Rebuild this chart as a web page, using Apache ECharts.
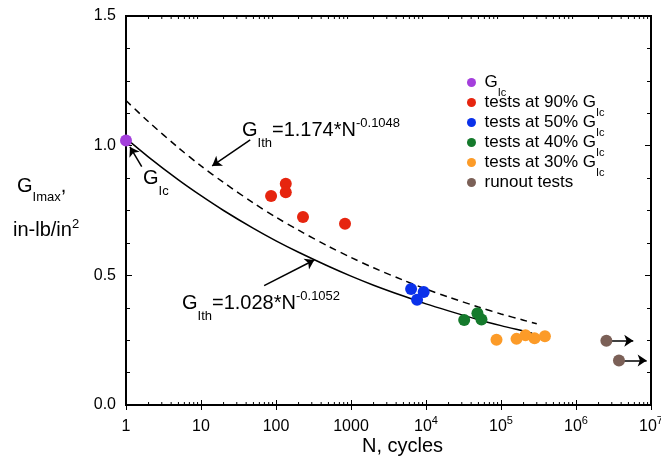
<!DOCTYPE html>
<html><head><meta charset="utf-8">
<script src="https://cdn.jsdelivr.net/npm/echarts@6/dist/echarts.min.js"></script>
<style>html,body{margin:0;padding:0;background:#fff}#c{width:661px;height:462px}</style>
</head><body><div id="c"></div>
<script>
// ---- data ----
const xTickLabels = ['1', '10', '100', '1000', '10^4', '10^5', '10^6', '10^7'];
const yTickLabels = ['0.0', '0.5', '1.0', '1.5'];
const seriesNames = ['G_Ic', 'tests at 90% G_Ic', 'tests at 50% G_Ic', 'tests at 40% G_Ic', 'tests at 30% G_Ic', 'runout tests'];

const gIcN = [1];
const gIcG = [1.02];
const t90N = [86, 135, 135, 229, 832];
const t90G = [0.806, 0.853, 0.820, 0.725, 0.699];
const t50N = [6330, 9310, 7600];
const t50G = [0.447, 0.436, 0.406];
const t40N = [32300, 48500, 54900];
const t40G = [0.328, 0.354, 0.330];
const t30N = [87100, 161000, 212000, 280000, 385000];
const t30G = [0.252, 0.255, 0.269, 0.257, 0.265];
const runN = [2540000, 3740000];
const runG = [0.248, 0.172];

// curves (upper dashed, lower solid)
const upperN = [1, 2, 5, 10, 20, 50, 100, 200, 500, 1000, 2000, 5000, 1e4, 2e4, 5e4, 1e5, 2e5, 3e5];
const upperG = [1.174, 1.092, 0.992, 0.922, 0.858, 0.779, 0.724, 0.674, 0.612, 0.569, 0.529, 0.481, 0.447, 0.416, 0.378, 0.351, 0.327, 0.313];
const lowerN = [1, 2, 5, 10, 20, 50, 100, 200, 500, 1000, 2000, 5000, 1e4, 2e4, 5e4, 1e5, 2e5, 2.6e5];
const lowerG = [1.028, 0.956, 0.868, 0.807, 0.750, 0.681, 0.633, 0.589, 0.535, 0.497, 0.462, 0.420, 0.390, 0.363, 0.329, 0.306, 0.285, 0.277];

// ---- helpers ----
const FF = 'Liberation Sans, Arial, Helvetica, sans-serif';
const zip = (a, b) => a.map((v, i) => [v, b[i]]);
const minorX = [];
for (let e = 0; e < 7; e++) for (let m = 2; m <= 9; m++) minorX.push(m * Math.pow(10, e));

function xLabel(v) {
  const k = Math.round(Math.log10(v));
  const s = xTickLabels[k];
  if (s === undefined) return '';
  const p = s.split('^');
  return p.length > 1 ? p[0] + '{sup|' + p[1] + '}' : s;
}
function yLabel(v) {
  const k = Math.round(v / 0.5);
  return yTickLabels[k] !== undefined ? yTickLabels[k] : '';
}
const richSubSup = {
  sub: { fontSize: 13, lineHeight: 13, padding: [26, 0, 0, 0], fontFamily: FF, fill: '#000', color: '#000' },
  sup: { fontSize: 13, lineHeight: 13, padding: [0, 0, 14, 0], fontFamily: FF, fill: '#000', color: '#000' }
};
function richText(s) {
  return s.replace(/_([A-Za-z]+)/g, '{sub|$1}').replace(/\^([-0-9.]+)/g, '{sup|$1}');
}

const colors = ['#a43fdc', '#e6250f', '#0a31ea', '#157a2c', '#fc9b28', '#7b6057'];
const pointSets = [zip(gIcN, gIcG), zip(t90N, t90G), zip(t50N, t50G), zip(t40N, t40G), zip(t30N, t30G), zip(runN, runG)];

const chart = echarts.init(document.getElementById('c'), null, { renderer: 'canvas' });

const scatterSeries = pointSets.map((d, i) => ({
  name: seriesNames[i], type: 'scatter', data: d, symbolSize: 12,
  itemStyle: { color: colors[i], opacity: 1 }, clip: false, z: 5, silent: true
}));

const axisCommonX = {
  type: 'log', logBase: 10, min: 1, max: 1e7, gridIndex: 0,
  axisLine: { show: true, lineStyle: { color: '#000', width: 2 } },
  axisTick: { show: true, inside: true, length: 5, lineStyle: { color: '#000', width: 1 } },
  minorTick: { show: false }, splitLine: { show: false }
};
const axisCommonY = {
  type: 'value', min: 0, max: 1.5, interval: 0.5, gridIndex: 0,
  axisLine: { show: true, lineStyle: { color: '#000', width: 2 } },
  axisTick: { show: true, inside: true, length: 6, lineStyle: { color: '#000', width: 1 } },
  minorTick: { show: true, splitNumber: 4, length: 4, lineStyle: { color: '#000', width: 1 } },
  splitLine: { show: false }
};

const option = {
  animation: false,
  backgroundColor: '#fff',
  grid: { left: 126, right: 10, top: 16, bottom: 57, containLabel: false, outerBoundsMode: 'none',
    show: true, borderColor: '#000', borderWidth: 2, backgroundColor: 'transparent' },
  xAxis: [
    Object.assign({}, axisCommonX, {
      position: 'bottom',
      axisLabel: { show: true, formatter: xLabel, fontSize: 16, color: '#000', fontFamily: FF, margin: 12, showMinLabel: true, showMaxLabel: true, lineHeight: 20,
        rich: { sup: { fontSize: 11, lineHeight: 11, padding: [0, 0, 12, 0], fontFamily: FF, color: '#000' } } },
      name: 'N, cycles', nameLocation: 'middle', nameGap: 31, nameMoveOverlap: false,
      nameTextStyle: { fontSize: 20, color: '#000', fontFamily: FF, padding: [0, 0, 0, 28] }
    }),
    Object.assign({}, axisCommonX, { position: 'top', axisLabel: { show: false } })
  ],
  yAxis: [
    Object.assign({}, axisCommonY, {
      position: 'left',
      axisLabel: { show: true, formatter: yLabel, fontSize: 16, color: '#000', fontFamily: FF, margin: 10 }
    }),
    Object.assign({}, axisCommonY, { position: 'right', axisLabel: { show: false } })
  ],
  legend: {
    data: seriesNames, orient: 'vertical', left: 462, top: 62, itemGap: -11, padding: 5,
    icon: 'circle', itemWidth: 16, itemHeight: 9, selectedMode: false,
    formatter: n => { const r = richText(n); return r.indexOf('{sub|') >= 0 ? r : r + '{sub| }'; },
    textStyle: { fontSize: 17, lineHeight: 20, color: '#000', fontFamily: FF,
      rich: { sub: { fontSize: 11, lineHeight: 11, padding: [20, 0, 0, 0], fontFamily: FF, color: '#000' } } }
  },
  series: [
    { name: 'upper', type: 'line', data: zip(upperN, upperG), showSymbol: false, symbol: 'none', smooth: 0.3,
      lineStyle: { color: '#000', width: 1.5, type: [7, 5] }, z: 3, silent: true },
    { name: 'lower', type: 'line', data: zip(lowerN, lowerG), showSymbol: false, symbol: 'none', smooth: 0.3,
      lineStyle: { color: '#000', width: 1.5 }, z: 3, silent: true },
    { name: 'arrows', type: 'line', data: [], silent: true,
      markLine: { silent: true, symbol: ['none', 'arrow'], symbolSize: 9, animation: false,
        label: { show: false }, lineStyle: { color: '#000', width: 1.5, type: 'solid' },
        emphasis: { disabled: true },
        data: [
          [{ coord: [45.3, 1.022] }, { coord: [14.1, 0.922] }],
          [{ coord: [1.62, 0.919] }, { coord: [1.13, 0.995] }],
          [{ coord: [69.5, 0.460] }, { coord: [324, 0.559] }],
          [{ coord: [2.9e6, 0.248] }, { coord: [5.8e6, 0.248] }],
          [{ coord: [4.15e6, 0.172] }, { coord: [8.75e6, 0.172] }]
        ] } },
    { name: 'minorTicks', type: 'custom', data: minorX.map(v => [v, 0]), silent: true, clip: false, z: 4,
      encode: { x: 0, y: 1 },
      renderItem: (params, api) => {
        const v = api.value(0);
        const b = api.coord([v, 0]);
        const t = api.coord([v, 1.5]);
        return { type: 'group', children: [
          { type: 'line', shape: { x1: b[0], y1: b[1], x2: b[0], y2: b[1] - 3 }, style: { stroke: '#000', lineWidth: 1 } },
          { type: 'line', shape: { x1: t[0], y1: t[1], x2: t[0], y2: t[1] + 3 }, style: { stroke: '#000', lineWidth: 1 } }
        ] };
      } }
  ].concat(scatterSeries),
  graphic: [
    { type: 'text', x: 17, y: 186, silent: true, style: { text: richText('G_Imax') + ',', fontSize: 20, fontFamily: FF, fill: '#000', verticalAlign: 'middle',
      rich: { sub: { fontSize: 13, lineHeight: 13, padding: [22, 0, 0, 0], fontFamily: FF, fill: '#000' } } } },
    { type: 'text', x: 13, y: 230, silent: true, style: { text: richText('in-lb/in^2'), fontSize: 20, fontFamily: FF, fill: '#000', verticalAlign: 'middle',
      rich: { sup: { fontSize: 13, lineHeight: 13, padding: [0, 0, 11, 0], fontFamily: FF, fill: '#000' } } } },
    { type: 'text', x: 143, y: 178, silent: true, style: { text: richText('G_Ic'), fontSize: 20, fontFamily: FF, fill: '#000', verticalAlign: 'middle', rich: richSubSup } },
    { type: 'text', x: 242, y: 130, silent: true, style: { text: richText('G_Ith') + '=1.174*N' + richText('^-0.1048'), fontSize: 20, fontFamily: FF, fill: '#000', verticalAlign: 'middle', rich: richSubSup } },
    { type: 'text', x: 182, y: 303, silent: true, style: { text: richText('G_Ith') + '=1.028*N' + richText('^-0.1052'), fontSize: 20, fontFamily: FF, fill: '#000', verticalAlign: 'middle', rich: richSubSup } }
  ]
};
chart.setOption(option);
</script>
</body></html>
